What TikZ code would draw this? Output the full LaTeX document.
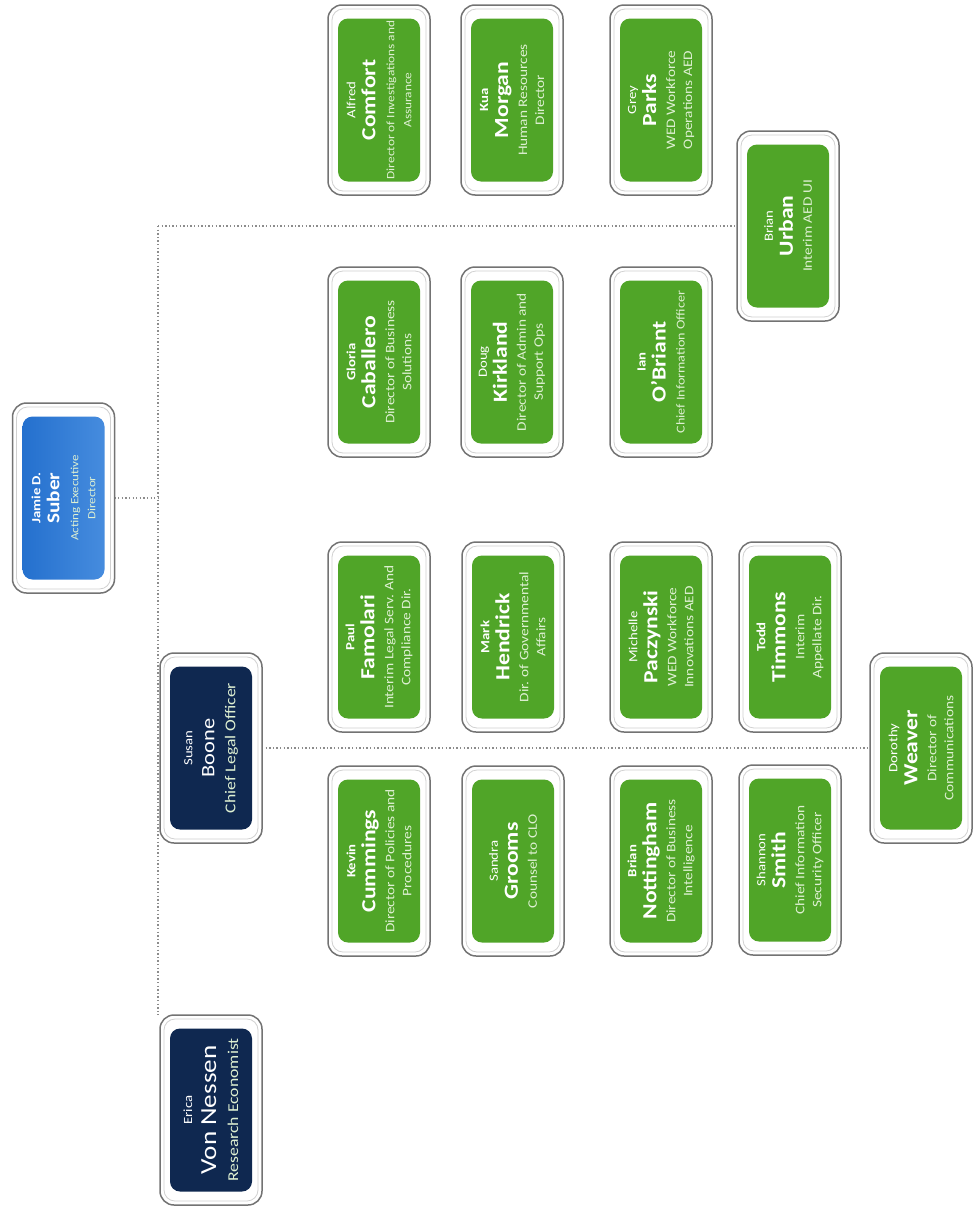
\documentclass[tikz,border=0pt]{standalone}
\usepackage{fontspec}
\setmainfont{Carlito}[FakeStretch=1.18]
\usetikzlibrary{backgrounds}
\definecolor{cardgreen}{RGB}{80,165,40}
\definecolor{titlegreen}{RGB}{222,240,210}
\definecolor{cardnavy}{RGB}{15,40,80}
\definecolor{cardblue}{RGB}{36,112,206}
\definecolor{cardblueL}{RGB}{70,140,222}
\definecolor{framegray}{RGB}{115,115,115}
\definecolor{linkgray}{RGB}{140,140,140}
\newcommand\cfirst[1]{{\fontsize{12.5}{17}\selectfont\bfseries #1}}
\newcommand\cfirstr[1]{{\fontsize{12.5}{17}\selectfont #1}}
\newcommand\clast[1]{{\fontsize{20}{17}\selectfont\bfseries #1}}
\newcommand\ctitle[1]{{\fontsize{13}{17}\selectfont\color{titlegreen}#1}}
\newcommand\ctitles[1]{{\fontsize{11.3}{17}\selectfont\color{titlegreen}#1}}
\newcommand\orgcard[4]{%
  \node[cardframe] (#1) at #2 {};
  \node[cardring] at (#1) {};
  \node[#3] (#1-face) at (#1) {#4};
}
\tikzset{
  cardframe/.style={draw=framegray, line width=1.5pt, fill=white, rounded corners=14pt,
    rotate=90, minimum width=190pt, minimum height=102pt, inner sep=0pt, outer sep=0pt},
  cardring/.style={draw=black!18, line width=0.8pt, rounded corners=11pt,
    rotate=90, minimum width=182pt, minimum height=94pt, inner sep=0pt},
  cardface/.style={rounded corners=10pt, rotate=90, minimum width=163pt, minimum height=82pt,
    inner sep=0pt, text=white, align=center, font=\fontsize{12}{17}\selectfont},
  greenface/.style={cardface, fill=cardgreen},
  navyface/.style={cardface, fill=cardnavy},
  blueface/.style={cardface, left color=cardblue, right color=cardblueL},
  link/.style={draw=linkgray, line width=1.3pt, dash pattern=on 1.3pt off 2.3pt}
}
\begin{document}
\begin{tikzpicture}[x=1pt,y=-1pt]
\useasboundingbox (0,0) rectangle (973,1210);

% executive
\orgcard{js}{(63.5,498)}{blueface}{\cfirst{Jamie D.}\\[2pt]{\fontsize{18}{17}\selectfont\bfseries Suber}\\[2pt]{\fontsize{11}{15}\selectfont\color{titlegreen}Acting Executive}\\{\fontsize{11}{15}\selectfont\color{titlegreen}Director}}

% navy cards
\orgcard{sb}{(211,748)}{navyface}{\cfirstr{Susan}\\[5pt]{\fontsize{19}{17}\selectfont Boone}\\[4pt]{\fontsize{15}{17}\selectfont\color{titlegreen}Chief Legal Officer}}
\orgcard{ev}{(211,1110)}{navyface}{\cfirstr{Erica}\\[7pt]{\fontsize{23}{17}\selectfont Von Nessen}\\[5pt]{\fontsize{15}{17}\selectfont\color{titlegreen}Research Economist}}

% green column 1
\orgcard{ac}{(379,100)}{greenface}{\cfirstr{Alfred}\\[3pt]\clast{Comfort}\\[2pt]\ctitles{Director of Investigations and}\\\ctitles{Assurance}}
\orgcard{gc}{(379,362)}{greenface}{\cfirst{Gloria}\\[3pt]\clast{Caballero}\\[2pt]\ctitle{Director of Business}\\\ctitle{Solutions}}
\orgcard{pf}{(379,637)}{greenface}{\cfirst{Paul}\\[3pt]\clast{Famolari}\\[2pt]\ctitle{Interim Legal Serv. And}\\\ctitle{Compliance Dir.}}
\orgcard{kc}{(379,861)}{greenface}{\cfirst{Kevin}\\[3pt]\clast{Cummings}\\[2pt]\ctitle{Director of Policies and}\\\ctitle{Procedures}}

% green column 2
\orgcard{km}{(512,100)}{greenface}{\cfirst{Kua}\\[3pt]\clast{Morgan}\\[2pt]\ctitle{Human Resources}\\\ctitle{Director}}
\orgcard{dk}{(512,362)}{greenface}{\cfirstr{Doug}\\[3pt]\clast{Kirkland}\\[2pt]\ctitle{Director of Admin and}\\\ctitle{Support Ops}}
\orgcard{mh}{(513,637)}{greenface}{\cfirst{Mark}\\[3pt]\clast{Hendrick}\\[2pt]\ctitle{Dir. of Governmental}\\\ctitle{Affairs}}
\orgcard{sg}{(513,861)}{greenface}{\cfirstr{Sandra}\\[3pt]\clast{Grooms}\\[2pt]\ctitle{Counsel to CLO}}

% green column 3
\orgcard{gp}{(661,100)}{greenface}{\cfirstr{Grey}\\[3pt]\clast{Parks}\\[2pt]\ctitle{WED Workforce}\\\ctitle{Operations AED}}
\orgcard{io}{(661,362)}{greenface}{\cfirst{Ian}\\[3pt]\clast{O'Briant}\\[2pt]{\fontsize{12}{17}\selectfont\color{titlegreen}Chief Information Officer}}
\orgcard{mp}{(661,637)}{greenface}{\cfirstr{Michelle}\\[3pt]\clast{Paczynski}\\[2pt]\ctitle{WED Workforce}\\\ctitle{Innovations AED}}
\orgcard{bn}{(661,861)}{greenface}{\cfirst{Brian}\\[3pt]\clast{Nottingham}\\[2pt]\ctitle{Director of Business}\\\ctitle{Intelligence}}

% green column 4
\orgcard{bu}{(788,226)}{greenface}{\cfirstr{Brian}\\[3pt]\clast{Urban}\\[2pt]\ctitle{Interim AED UI}}
\orgcard{tt}{(790,637)}{greenface}{\cfirst{Todd}\\[3pt]\clast{Timmons}\\[2pt]\ctitle{Interim}\\\ctitle{Appellate Dir.}}
\orgcard{ss}{(790,860)}{greenface}{\cfirstr{Shannon}\\[3pt]\clast{Smith}\\[2pt]\ctitle{Chief Information}\\\ctitle{Security Officer}}
\orgcard{dw}{(921,748)}{greenface}{\cfirstr{Dorothy}\\[3pt]\clast{Weaver}\\[2pt]\ctitle{Director of}\\\ctitle{Communications}}

% connectors
\coordinate (busJ) at (158,498);
\coordinate (busTop) at (158,226);
\coordinate (busBot) at (158,1015);
\begin{scope}[on background layer]
\draw[link] (js) -- (busJ);
\draw[link] (busTop) -- (busBot);
\draw[link] (busTop) -- (bu);
\draw[link] (sb) -- (dw);
\end{scope}
\end{tikzpicture}
\end{document}
